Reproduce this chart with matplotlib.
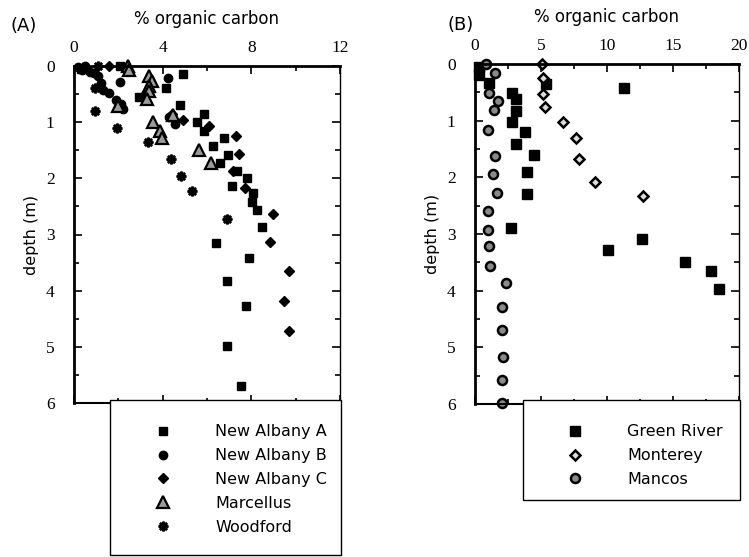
import numpy as np
import matplotlib.pyplot as plt
from matplotlib.patches import Rectangle
from matplotlib.ticker import MultipleLocator

# ---- panel A data: (% organic carbon, depth m)
nab_a_toc = [2.06, 4.9, 4.15, 2.93, 4.8, 5.85, 5.56, 5.86, 6.77, 6.29, 6.96, 6.59, 7.37,
             7.82, 7.11, 8.09, 8.02, 8.24, 8.47, 6.41, 7.91, 6.89, 7.74, 6.89, 7.52, 0.3]
nab_a_depth = [0.0, 0.15, 0.39, 0.56, 0.69, 0.86, 1.0, 1.15, 1.28, 1.42, 1.59, 1.72, 1.87,
               1.99, 2.14, 2.26, 2.42, 2.56, 2.87, 3.16, 3.42, 3.83, 4.28, 4.99, 5.70, 0.06]
nab_b_toc = [0.2, 0.5, 0.35, 0.7, 0.9, 1.1, 1.2, 2.06, 1.3, 1.6, 1.9, 2.1, 2.2, 4.24, 4.56, 4.3]
nab_b_depth = [0.02, 0.0, 0.08, 0.1, 0.12, 0.18, 0.3, 0.28, 0.42, 0.48, 0.6, 0.68, 0.76, 0.22, 1.03, 0.9]
nab_c_toc = [1.56, 4.4, 4.9, 6.1, 7.3, 7.46, 7.19, 7.71, 8.99, 8.84, 9.71, 9.47, 9.71]
nab_c_depth = [0.0, 0.85, 0.96, 1.06, 1.25, 1.57, 1.87, 2.18, 2.63, 3.13, 3.65, 4.19, 4.72]
marc_toc = [2.44, 2.5, 3.38, 3.5, 3.4, 3.4, 3.28, 4.45, 3.58, 3.88, 3.96, 5.65, 6.2, 2.0]
marc_depth = [0.0, 0.08, 0.17, 0.26, 0.36, 0.45, 0.58, 0.87, 1.0, 1.15, 1.29, 1.49, 1.72, 0.72]
wood_toc = [1.08, 0.93, 0.93, 1.93, 3.35, 4.36, 4.81, 5.31, 6.92]
wood_depth = [0.0, 0.4, 0.81, 1.1, 1.35, 1.65, 1.95, 2.23, 2.72]

# ---- panel B data
gr_toc = [0.3, 0.3, 1.08, 5.38, 11.3, 2.83, 3.1, 3.1, 2.83, 3.79, 3.1, 4.47, 3.92, 3.92,
          2.73, 12.68, 10.1, 15.9, 17.9, 18.5]
gr_depth = [0.05, 0.2, 0.33, 0.36, 0.42, 0.52, 0.62, 0.83, 1.02, 1.2, 1.42, 1.6, 1.9, 2.3,
            2.9, 3.09, 3.29, 3.49, 3.66, 3.97]
mont_toc = [5.05, 5.18, 5.18, 5.3, 6.64, 7.62, 7.88, 9.09, 12.75]
mont_depth = [0.0, 0.24, 0.53, 0.76, 1.02, 1.3, 1.68, 2.08, 2.33]
manc_toc = [0.83, 1.52, 1.06, 1.72, 1.44, 1.0, 1.52, 1.34, 1.64, 1.0, 1.0, 1.06, 1.14,
            2.32, 2.02, 2.02, 2.15, 2.02, 2.02]
manc_depth = [0.0, 0.15, 0.52, 0.66, 0.81, 1.16, 1.62, 1.94, 2.27, 2.6, 2.93, 3.22, 3.56,
              3.87, 4.28, 4.69, 5.17, 5.58, 5.98]

sans = 'DejaVu Sans'
serif = 'Liberation Serif'

fig = plt.figure(figsize=(7.49, 5.57), dpi=100)
axA = fig.add_axes([74 / 749, 1 - 403 / 557, 266 / 749, 337 / 557])
axB = fig.add_axes([475 / 749, 1 - 404 / 557, 264 / 749, 340 / 557])


def style(ax, xmax, xmajor, xminor):
    ax.set_xlim(0, xmax)
    ax.set_ylim(6, 0)
    ax.xaxis.tick_top()
    ax.xaxis.set_label_position('top')
    ax.xaxis.set_major_locator(MultipleLocator(xmajor))
    ax.xaxis.set_minor_locator(MultipleLocator(xminor))
    ax.yaxis.set_major_locator(MultipleLocator(1))
    ax.yaxis.set_minor_locator(MultipleLocator(0.5))
    ax.tick_params(which='both', direction='in', top=True, bottom=True, left=True, right=True,
                   labelsize=12.5, width=1.2)
    ax.tick_params(axis='x', pad=7)
    ax.tick_params(axis='y', pad=14)
    ax.tick_params(which='major', length=6)
    ax.tick_params(which='minor', length=3.5)
    for lab in ax.get_xticklabels() + ax.get_yticklabels():
        lab.set_fontfamily(serif)
    ax.spines['left'].set_linewidth(2)
    ax.spines['top'].set_linewidth(2)
    ax.spines['right'].set_linewidth(1)
    ax.spines['bottom'].set_linewidth(1.5)
    ax.set_xlabel('% organic carbon', fontfamily=sans, fontsize=12, labelpad=12)
    ax.set_ylabel('depth (m)', fontfamily=sans, fontsize=11.5, labelpad=5)


ms = 6
axA.plot(nab_a_toc, nab_a_depth, 's', ms=ms, color='black', label='New Albany A', clip_on=False)
axA.plot(nab_b_toc, nab_b_depth, 'o', ms=ms, color='black', label='New Albany B', clip_on=False)
axA.plot(nab_c_toc, nab_c_depth, 'D', ms=5, color='black', label='New Albany C', clip_on=False)
axA.plot(marc_toc, marc_depth, '^', ms=8, mfc='#9a9a9a', mec='black', mew=1.6,
         label='Marcellus', clip_on=False)
axA.plot(wood_toc, wood_depth, marker=(8, 2, 0), ls='none', ms=7, color='black', mew=1.8,
         label='Woodford', clip_on=False)
style(axA, 12, 4, 2)

axB.plot(gr_toc, gr_depth, 's', ms=7, color='black', label='Green River', clip_on=False)
axB.plot(mont_toc, mont_depth, 'D', ms=5, mfc='#dddddd', mec='black', mew=1.8,
         label='Monterey', clip_on=False)
axB.plot(manc_toc, manc_depth, 'o', ms=6.5, mfc='#8a8a8a', mec='black', mew=1.8,
         label='Mancos', clip_on=False)
style(axB, 20, 5, 2.5)

# legend boxes below the panels
for x0, x1, y0, y1 in [(110, 341, 400, 555), (523, 740, 400, 500)]:
    fig.patches.append(Rectangle((x0 / 749, 1 - y1 / 557), (x1 - x0) / 749, (y1 - y0) / 557,
                                 transform=fig.transFigure, fc='white', ec='black', lw=1,
                                 zorder=5))

legA = fig.legend(*axA.get_legend_handles_labels(), loc='upper left',
                  bbox_to_anchor=(137 / 749, 1 - 410 / 557), frameon=False,
                  prop={'family': sans, 'size': 11.5}, handletextpad=2.5, labelspacing=0.55,
                  handlelength=1.5)
legB = fig.legend(*axB.get_legend_handles_labels(), loc='upper left',
                  bbox_to_anchor=(549 / 749, 1 - 410 / 557), frameon=False,
                  prop={'family': sans, 'size': 11.5}, handletextpad=2.5, labelspacing=0.55,
                  handlelength=1.5)
legA.set_zorder(6)
legB.set_zorder(6)

fig.text(10 / 749, 1 - 26 / 557, '(A)', fontfamily=sans, fontsize=13, va='center')
fig.text(447 / 749, 1 - 25 / 557, '(B)', fontfamily=sans, fontsize=13, va='center')

fig.savefig('out.png', dpi=100)
